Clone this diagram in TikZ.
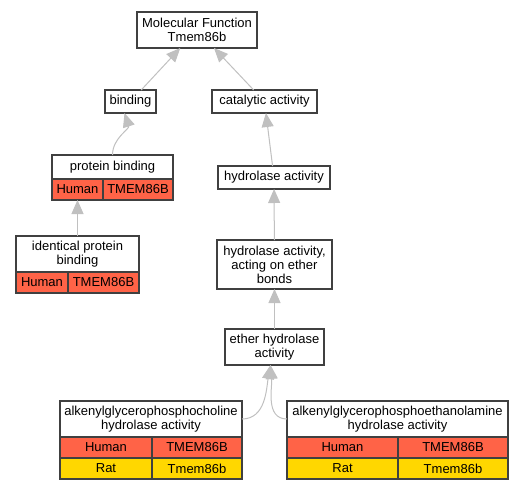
\documentclass[tikz,border=0pt]{standalone}
\usepackage{fontspec}
\setmainfont{Liberation Sans}
\usetikzlibrary{arrows.meta}
\definecolor{boxline}{RGB}{64,64,64}
\definecolor{edgegray}{RGB}{192,192,192}
\definecolor{humanred}{RGB}{255,99,71}
\definecolor{ratgold}{RGB}{255,215,0}
\tikzset{
  term/.style={draw=boxline,fill=white,line width=1.2pt,inner sep=0pt,outer sep=0pt,
    align=center,font=\fontsize{13}{14}\selectfont},
  cell/.style={draw=boxline,line width=1.2pt,inner sep=0pt,outer sep=0pt,minimum height=21,
    font=\fontsize{13}{14}\selectfont},
  human/.style={cell,fill=humanred},
  rat/.style={cell,fill=ratgold},
  edge/.style={draw=edgegray,line width=1pt,-{Triangle[length=14pt,width=12pt,fill=edgegray]}}
}

\begin{document}
\begin{tikzpicture}[x=1pt,y=-1pt]
\path[use as bounding box] (0,0) rectangle (523,491);
% terms without genes
\node[term,minimum width=120,minimum height=36] (mf) at (197,30) {Molecular Function\\Tmem86b};
\node[term,minimum width=51,minimum height=23] (bind) at (130.5,101.5) {binding};
\node[term,minimum width=105,minimum height=23] (cat) at (264.5,101.5) {catalytic activity};
\node[term,minimum width=112,minimum height=23] (hyd) at (274,177.5) {hydrolase activity};
\node[term,minimum width=115,minimum height=49] (hae) at (274.5,264.5) {hydrolase activity,\\acting on ether\\bonds};
\node[term,minimum width=99,minimum height=36] (eha) at (274.5,347) {ether hydrolase\\activity};
% protein binding
\node[term,minimum width=121,minimum height=24] (pb) at (112.5,167) {protein binding};
\node[human,minimum width=51,anchor=north west] (pbh) at (pb.south west) {Human};
\node[human,minimum width=70,anchor=west] (pbg) at (pbh.east) {TMEM86B};
% identical protein binding
\node[term,minimum width=123,minimum height=36] (ipb) at (77.5,254) {identical protein\\binding};
\node[human,minimum width=52,anchor=north west] (ipbh) at (ipb.south west) {Human};
\node[human,minimum width=71,anchor=west] (ipbg) at (ipbh.east) {TMEM86B};
% alkenylglycerophosphocholine
\node[term,minimum width=182,minimum height=36] (apc) at (151,419) {alkenylglycerophosphocholine\\hydrolase activity};
\node[human,minimum width=92,anchor=north west] (apch) at (apc.south west) {Human};
\node[human,minimum width=90,anchor=west] (apcg) at (apch.east) {TMEM86B};
\node[rat,minimum width=92,anchor=north] (apcr) at (apch.south) {Rat};
\node[rat,minimum width=90,anchor=north] (apcrg) at (apcg.south) {Tmem86b};
% alkenylglycerophosphoethanolamine
\node[term,minimum width=221,minimum height=36] (ape) at (397.5,419) {alkenylglycerophosphoethanolamine\\hydrolase activity};
\node[human,minimum width=111,anchor=north west] (apeh) at (ape.south west) {Human};
\node[human,minimum width=110,anchor=west] (apeg) at (apeh.east) {TMEM86B};
\node[rat,minimum width=111,anchor=north] (aper) at (apeh.south) {Rat};
\node[rat,minimum width=110,anchor=north] (aperg) at (apeg.south) {Tmem86b};
% edges
\draw[edge] (bind) -- (mf);
\draw[edge] (cat) -- (mf);
\draw[edge] (pb.north) to[out=90,in=-72] ([xshift=-6]bind.south);
\draw[edge] (hyd) -- (cat);
\draw[edge] (ipb) -- (pbh);
\draw[edge] (hae) -- (hyd);
\draw[edge] (eha) -- (hae);
\draw[edge] (apc.east) to[out=0,in=-100] ([xshift=-4]eha.south);
\draw[edge] (ape.west) to[out=180,in=-85] ([xshift=-4]eha.south);
\end{tikzpicture}
\end{document}
